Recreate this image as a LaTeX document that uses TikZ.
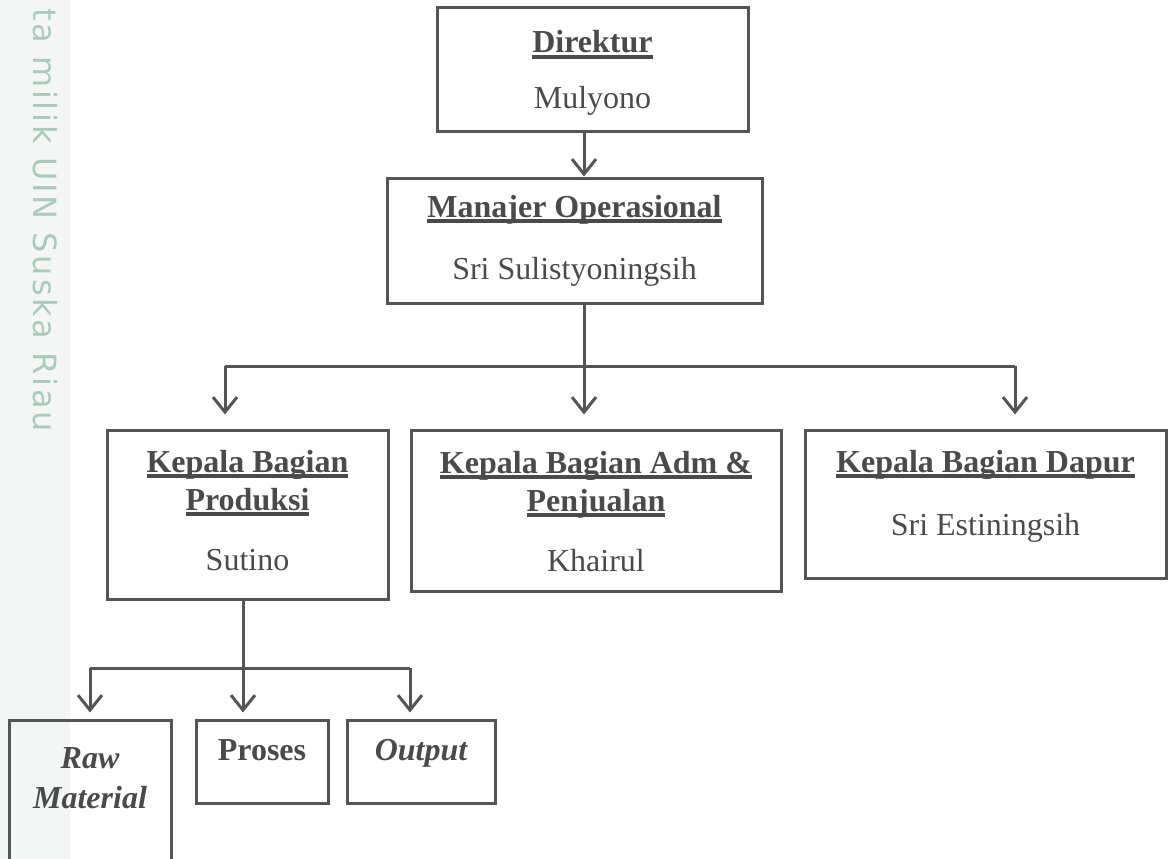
\documentclass[tikz,border=0pt]{standalone}
\usepackage{fontspec}
\setmainfont{Liberation Serif}
\newfontfamily\wmfont[LetterSpace=9]{DejaVu Sans}
\usetikzlibrary{arrows.meta}
\definecolor{lncol}{HTML}{555555}
\definecolor{txcol}{HTML}{4A4A4A}
\definecolor{wmcol}{HTML}{A9CBBD}
\definecolor{stripcol}{HTML}{F4F6F6}
\newsavebox\ulbox
\newcommand\ulin[1]{\sbox\ulbox{#1}\rlap{\rule[-6pt]{\wd\ulbox}{3.6pt}}\usebox\ulbox}
\begin{document}
\begin{tikzpicture}[x=1pt,y=-1pt,
  box/.style={draw=lncol,line width=3pt,inner sep=0pt},
  conn/.style={draw=lncol,line width=3pt},
  arr/.style={draw=lncol,line width=3pt,-{Straight Barb[length=15pt,width=24pt]}},
  txt/.style={text=txcol,anchor=base,inner sep=0pt,font=\fontsize{32}{38}\selectfont},
  tb/.style={txt,font=\fontsize{32}{38}\selectfont\bfseries},
  tbi/.style={txt,font=\fontsize{32}{38}\selectfont\bfseries\itshape},
  wmtext/.style={text=wmcol,inner sep=0pt,font=\wmfont\fontsize{32}{38}\selectfont}]
\useasboundingbox (0,0) rectangle (1168,859);
\clip (0,0) rectangle (1168,859);
% watermark strip and text
\fill[stripcol] (0,0) rectangle (70,859);
\node[wmtext,rotate=-90,anchor=base east] (wm) at (33,432) {ta milik UIN Suska Riau};
% boxes
\node[box,minimum width=311pt,minimum height=123pt] (dir) at (592.5,69.5) {};
\node[box,minimum width=375pt,minimum height=125pt] (man) at (574.5,240.5) {};
\node[box,minimum width=281pt,minimum height=169pt] (prod) at (247.5,514.5) {};
\node[box,minimum width=370pt,minimum height=161pt] (adm) at (596,510.5) {};
\node[box,minimum width=361pt,minimum height=148pt] (dap) at (985.5,504) {};
\node[box,minimum width=162pt,minimum height=160pt] (raw) at (90,800) {};
\node[box,minimum width=132pt,minimum height=83pt] (pro) at (262,761.5) {};
\node[box,minimum width=148pt,minimum height=83pt] (out) at (421,761.5) {};
% texts
\node[tb] (dirT) at (592.5,53) {\ulin{Direktur}};
\node[txt] (dirN) at (592.5,109) {Mulyono};
\node[tb] (manT) at (574.5,217) {\ulin{Manajer Operasional}};
\node[txt] (manN) at (574.5,279) {Sri Sulistyoningsih};
\node[tb] (prodT1) at (247.5,472) {\ulin{Kepala Bagian}};
\node[tb] (prodT2) at (247.5,510) {\ulin{Produksi}};
\node[txt] (prodN) at (247.5,570) {Sutino};
\node[tb] (admT1) at (596,473) {\ulin{Kepala Bagian Adm \&}};
\node[tb] (admT2) at (596,511) {\ulin{Penjualan}};
\node[txt] (admN) at (596,571) {Khairul};
\node[tb] (dapT) at (985.5,472) {\ulin{Kepala Bagian Dapur}};
\node[txt] (dapN) at (985.5,535) {Sri Estiningsih};
\node[tbi] (rawT1) at (90,768) {Raw};
\node[tbi] (rawT2) at (90,808) {Material};
\node[tb] (proT) at (262,760) {Proses};
\node[tbi] (outT) at (421,760) {Output};
% connectors
\coordinate (a1) at (584,0);
\draw[arr] (dir.south -| a1) -- (man.north -| a1);
\coordinate (bus1) at (584,366);
\coordinate (busL) at (225,366);
\coordinate (busR) at (1015,366);
\draw[conn] (man.south -| bus1) -- (bus1);
\draw[conn] (busL) -- (busR);
\draw[arr,shorten >=14pt] (busL) -- (prod.north -| busL);
\draw[arr,shorten >=14pt] (bus1) -- (adm.north -| bus1);
\draw[arr,shorten >=14pt] (busR) -- (dap.north -| busR);
\coordinate (bus2) at (243,668);
\coordinate (bus2L) at (90,668);
\coordinate (bus2R) at (410,668);
\draw[conn] (prod.south -| bus2) -- (bus2);
\draw[conn] (bus2L) -- (bus2R);
\draw[arr,shorten >=6pt] (bus2L) -- (raw.north -| bus2L);
\draw[arr,shorten >=6pt] (bus2) -- (pro.north -| bus2);
\draw[arr,shorten >=6pt] (bus2R) -- (out.north -| bus2R);
\end{tikzpicture}
\end{document}
